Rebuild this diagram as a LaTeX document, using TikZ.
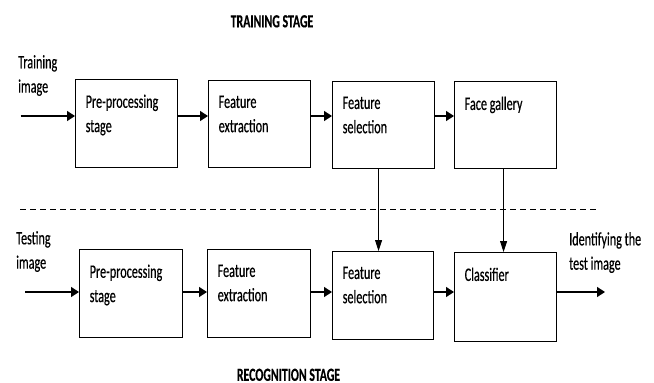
\documentclass[tikz,border=0pt]{standalone}
\usepackage{fontspec}
\setmainfont[FakeStretch=0.64,FakeBold=0.4]{Carlito}
\usetikzlibrary{arrows.meta}
\begin{document}
\begin{tikzpicture}[x=1pt,y=-1pt,
  box/.style={draw, line width=1.1pt, anchor=north west, inner sep=0pt},
  boxtext/.style={anchor=north west, inner sep=0pt, align=left, xshift=10.5pt, yshift=-15.5pt,
    font=\fontsize{19}{24.3}\selectfont},
  sidetext/.style={anchor=north west, inner sep=0pt, align=left,
    font=\fontsize{19}{24.3}\selectfont},
  title/.style={anchor=north, inner sep=0pt, font=\bfseries\fontsize{18.5}{22}\selectfont},
  harrow/.style={line width=1.3pt, -{Triangle[length=8pt,width=10pt]}},
  varrow/.style={line width=0.9pt, -{Triangle[length=11pt,width=7pt]}},
]
\useasboundingbox[fill=white] (0,0) rectangle (654,383);

% titles
\node[title] (ttrain) at (272,15) {TRAINING STAGE};
\node[title] (trecog) at (288.5,368.5) {RECOGNITION STAGE};

% training row
\node[box, minimum width=102pt, minimum height=88pt,
  label={[boxtext]north west:Pre-processing\\stage}] (p1) at (75,79) {};
\node[box, minimum width=102pt, minimum height=87pt,
  label={[boxtext]north west:Feature\\extraction}] (e1) at (208,80) {};
\node[box, minimum width=102pt, minimum height=87pt,
  label={[boxtext]north west:Feature\\selection}] (s1) at (332,81) {};
\node[box, minimum width=102pt, minimum height=87pt,
  label={[boxtext]north west:Face gallery}] (g1) at (454,81) {};

% recognition row
\node[box, minimum width=103pt, minimum height=88pt,
  label={[boxtext]north west:Pre-processing\\stage}] (p2) at (79,249) {};
\node[box, minimum width=103pt, minimum height=88pt,
  label={[boxtext]north west:Feature\\extraction}] (e2) at (207,249) {};
\node[box, minimum width=101pt, minimum height=88pt,
  label={[boxtext]north west:Feature\\selection}] (s2) at (332,251) {};
\node[box, minimum width=102pt, minimum height=89pt,
  label={[boxtext]north west:Classifier}] (c2) at (454,252) {};

% side labels
\node[sidetext] (ltrain) at (18,55) {Training\\image};
\node[sidetext] (ltest) at (16,231) {Testing\\image};
\node[sidetext] (lout) at (569,232) {Identifying the\\test image};

% arrow levels and free ends
\coordinate (rowA) at (0,116);
\coordinate (rowB) at (0,292);
\coordinate (inA) at (20.5,116);
\coordinate (inB) at (25,292);
\coordinate (outB) at (605,292);

\draw[harrow] (inA) -- (p1.west |- rowA);
\draw[harrow] (p1.east |- rowA) -- (e1.west |- rowA);
\draw[harrow] (e1.east |- rowA) -- (s1.west |- rowA);
\draw[harrow] (s1.east |- rowA) -- (g1.west |- rowA);

\draw[harrow] (inB) -- (p2.west |- rowB);
\draw[harrow] (p2.east |- rowB) -- (e2.west |- rowB);
\draw[harrow] (e2.east |- rowB) -- (s2.west |- rowB);
\draw[harrow] (s2.east |- rowB) -- (c2.west |- rowB);
\draw[harrow] (c2.east |- rowB) -- (outB);

% links from the training stage down to the recognition stage
\draw[varrow] ([xshift=-5pt]s1.south) -- ([xshift=-5pt]s1.south |- s2.north);
\draw[varrow] ([xshift=-2pt]g1.south) -- ([xshift=-2pt]g1.south |- c2.north);

% stage separator
\coordinate (sepL) at (20,209);
\coordinate (sepR) at (596,209);
\draw[line width=1pt, dash pattern=on 6pt off 4pt] (sepL) -- (sepR);
\end{tikzpicture}
\end{document}
